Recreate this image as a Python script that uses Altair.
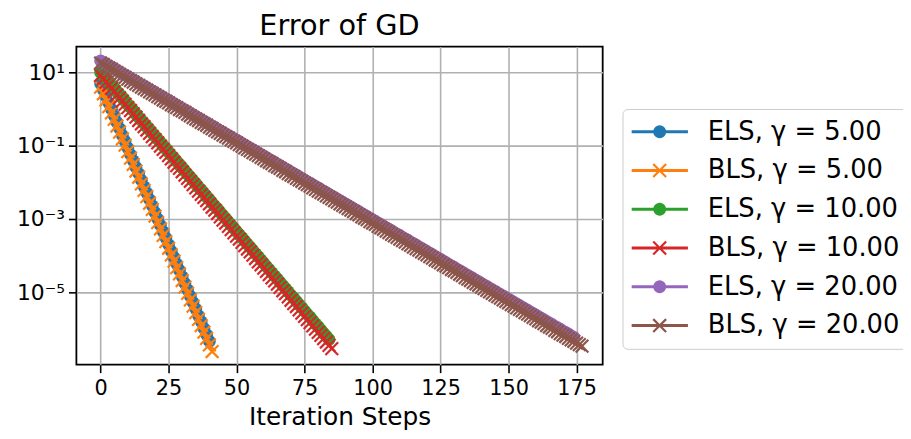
import math
import altair as alt
import pandas as pd

series_names = ["ELS, γ = 5.00", "BLS, γ = 5.00", "ELS, γ = 10.00",
                "BLS, γ = 10.00", "ELS, γ = 20.00", "BLS, γ = 20.00"]
series_colors = ["#1f77b4", "#ff7f0e", "#2ca02c", "#d62728", "#9467bd", "#8c564b"]
x_ticks = [0, 25, 50, 75, 100, 125, 150, 175]
y_ticks = [10, 0.1, 0.001, 0.00001]

# log10(error) at each iteration step
els5_log10 = [0.70, 0.52, 0.35, 0.17, 0.00, -0.18, -0.36, -0.53, -0.71, -0.88,
              -1.06, -1.24, -1.41, -1.59, -1.76, -1.94, -2.12, -2.29, -2.47, -2.64,
              -2.82, -3.00, -3.17, -3.35, -3.52, -3.70, -3.88, -4.05, -4.23, -4.40,
              -4.58, -4.76, -4.93, -5.11, -5.28, -5.46, -5.64, -5.81, -5.99, -6.16,
              -6.34]
bls5_log10 = [0.60, 0.42, 0.25, 0.07, -0.10, -0.28, -0.46, -0.63, -0.81, -0.98,
              -1.16, -1.34, -1.51, -1.69, -1.86, -2.04, -2.22, -2.39, -2.57, -2.74,
              -2.92, -3.10, -3.27, -3.45, -3.62, -3.80, -3.98, -4.15, -4.33, -4.50,
              -4.68, -4.86, -5.03, -5.21, -5.38, -5.56, -5.74, -5.91, -6.09, -6.26,
              -6.44, -6.62]
els10_log10 = [1.00, 0.91, 0.83, 0.74, 0.65, 0.57, 0.48, 0.39, 0.31, 0.22,
               0.13, 0.05, -0.04, -0.13, -0.22, -0.30, -0.39, -0.48, -0.56, -0.65,
               -0.74, -0.82, -0.91, -1.00, -1.08, -1.17, -1.26, -1.34, -1.43, -1.52,
               -1.60, -1.69, -1.78, -1.86, -1.95, -2.04, -2.13, -2.21, -2.30, -2.39,
               -2.47, -2.56, -2.65, -2.73, -2.82, -2.91, -2.99, -3.08, -3.17, -3.25,
               -3.34, -3.43, -3.51, -3.60, -3.69, -3.77, -3.86, -3.95, -4.03, -4.12,
               -4.21, -4.30, -4.38, -4.47, -4.56, -4.64, -4.73, -4.82, -4.90, -4.99,
               -5.08, -5.16, -5.25, -5.34, -5.42, -5.51, -5.60, -5.68, -5.77, -5.86,
               -5.94, -6.03, -6.12, -6.20, -6.29]
bls10_log10 = [0.92, 0.83, 0.74, 0.66, 0.57, 0.48, 0.39, 0.31, 0.22, 0.13,
               0.04, -0.04, -0.13, -0.22, -0.31, -0.40, -0.48, -0.57, -0.66, -0.75,
               -0.83, -0.92, -1.01, -1.10, -1.18, -1.27, -1.36, -1.45, -1.54, -1.62,
               -1.71, -1.80, -1.89, -1.97, -2.06, -2.15, -2.24, -2.33, -2.41, -2.50,
               -2.59, -2.68, -2.76, -2.85, -2.94, -3.03, -3.11, -3.20, -3.29, -3.38,
               -3.47, -3.55, -3.64, -3.73, -3.82, -3.90, -3.99, -4.08, -4.17, -4.25,
               -4.34, -4.43, -4.52, -4.61, -4.69, -4.78, -4.87, -4.96, -5.04, -5.13,
               -5.22, -5.31, -5.39, -5.48, -5.57, -5.66, -5.75, -5.83, -5.92, -6.01,
               -6.10, -6.18, -6.27, -6.36, -6.45, -6.54]
els20_log10 = [1.32, 1.28, 1.23, 1.19, 1.15, 1.10, 1.06, 1.02, 0.97, 0.93,
               0.89, 0.84, 0.80, 0.76, 0.71, 0.67, 0.63, 0.58, 0.54, 0.50,
               0.45, 0.41, 0.37, 0.32, 0.28, 0.24, 0.19, 0.15, 0.10, 0.06,
               0.02, -0.03, -0.07, -0.11, -0.16, -0.20, -0.24, -0.29, -0.33, -0.37,
               -0.42, -0.46, -0.50, -0.55, -0.59, -0.63, -0.68, -0.72, -0.76, -0.81,
               -0.85, -0.89, -0.94, -0.98, -1.02, -1.07, -1.11, -1.15, -1.20, -1.24,
               -1.28, -1.33, -1.37, -1.41, -1.46, -1.50, -1.54, -1.59, -1.63, -1.67,
               -1.72, -1.76, -1.80, -1.85, -1.89, -1.94, -1.98, -2.02, -2.07, -2.11,
               -2.15, -2.20, -2.24, -2.28, -2.33, -2.37, -2.41, -2.46, -2.50, -2.54,
               -2.59, -2.63, -2.67, -2.72, -2.76, -2.80, -2.85, -2.89, -2.93, -2.98,
               -3.02, -3.06, -3.11, -3.15, -3.19, -3.24, -3.28, -3.32, -3.37, -3.41,
               -3.45, -3.50, -3.54, -3.58, -3.63, -3.67, -3.71, -3.76, -3.80, -3.84,
               -3.89, -3.93, -3.97, -4.02, -4.06, -4.10, -4.15, -4.19, -4.24, -4.28,
               -4.32, -4.37, -4.41, -4.45, -4.50, -4.54, -4.58, -4.63, -4.67, -4.71,
               -4.76, -4.80, -4.84, -4.89, -4.93, -4.97, -5.02, -5.06, -5.10, -5.15,
               -5.19, -5.23, -5.28, -5.32, -5.36, -5.41, -5.45, -5.49, -5.54, -5.58,
               -5.62, -5.67, -5.71, -5.75, -5.80, -5.84, -5.88, -5.93, -5.97, -6.01,
               -6.06, -6.10, -6.14, -6.19, -6.23]
bls20_log10 = [1.26, 1.22, 1.17, 1.13, 1.09, 1.04, 1.00, 0.95, 0.91, 0.87,
               0.82, 0.78, 0.74, 0.69, 0.65, 0.60, 0.56, 0.52, 0.47, 0.43,
               0.39, 0.34, 0.30, 0.25, 0.21, 0.17, 0.12, 0.08, 0.04, -0.01,
               -0.05, -0.09, -0.14, -0.18, -0.23, -0.27, -0.31, -0.36, -0.40, -0.44,
               -0.49, -0.53, -0.58, -0.62, -0.66, -0.71, -0.75, -0.79, -0.84, -0.88,
               -0.92, -0.97, -1.01, -1.06, -1.10, -1.14, -1.19, -1.23, -1.27, -1.32,
               -1.36, -1.41, -1.45, -1.49, -1.54, -1.58, -1.62, -1.67, -1.71, -1.76,
               -1.80, -1.84, -1.89, -1.93, -1.97, -2.02, -2.06, -2.10, -2.15, -2.19,
               -2.24, -2.28, -2.32, -2.37, -2.41, -2.45, -2.50, -2.54, -2.59, -2.63,
               -2.67, -2.72, -2.76, -2.80, -2.85, -2.89, -2.94, -2.98, -3.02, -3.07,
               -3.11, -3.15, -3.20, -3.24, -3.28, -3.33, -3.37, -3.42, -3.46, -3.50,
               -3.55, -3.59, -3.63, -3.68, -3.72, -3.77, -3.81, -3.85, -3.90, -3.94,
               -3.98, -4.03, -4.07, -4.12, -4.16, -4.20, -4.25, -4.29, -4.33, -4.38,
               -4.42, -4.46, -4.51, -4.55, -4.60, -4.64, -4.68, -4.73, -4.77, -4.81,
               -4.86, -4.90, -4.95, -4.99, -5.03, -5.08, -5.12, -5.16, -5.21, -5.25,
               -5.29, -5.34, -5.38, -5.43, -5.47, -5.51, -5.56, -5.60, -5.64, -5.69,
               -5.73, -5.78, -5.82, -5.86, -5.91, -5.95, -5.99, -6.04, -6.08, -6.13,
               -6.17, -6.21, -6.26, -6.30, -6.34, -6.39, -6.43, -6.47]

all_series = [els5_log10, bls5_log10, els10_log10, bls10_log10, els20_log10, bls20_log10]

rows = []
for name, vals in zip(series_names, all_series):
    for k, v in enumerate(vals):
        rows.append({"series": name, "k": k, "err": 10 ** v})
df = pd.DataFrame(rows)

FONT = "DejaVu Sans"

# ---- legend symbol shapes (line + marker), unit coords scaled by sqrt(size)/2
LEG_LEN = 57.0
U = LEG_LEN / 2.0


def poly(points):
    area = sum(points[i][0] * points[(i + 1) % len(points)][1]
               - points[(i + 1) % len(points)][0] * points[i][1]
               for i in range(len(points)))
    if area < 0:
        points = points[::-1]
    return "M" + "L".join(f"{x:.4f},{y:.4f}" for x, y in points) + "Z"


lh = 1.5 / U
line_path = poly([(-1, -lh), (1, -lh), (1, lh), (-1, lh)])
cr = 6.5 / U
circle_path = poly([(cr * math.cos(2 * math.pi * i / 28), cr * math.sin(2 * math.pi * i / 28))
                    for i in range(28)])
L = 6.5 / U * math.sqrt(2)
W = 1.1 / U


def bar(ux, uy):
    nx, ny = -uy, ux
    return poly([(-L * ux - W * nx, -L * uy - W * ny), (L * ux - W * nx, L * uy - W * ny),
                 (L * ux + W * nx, L * uy + W * ny), (-L * ux + W * nx, -L * uy + W * ny)])


s2 = 1 / math.sqrt(2)
x_path = bar(s2, s2) + bar(s2, -s2)
legend_shapes = [line_path + (circle_path if n.startswith("ELS") else x_path) for n in series_names]

XMARK = "M-1,-1L1,1M-1,1L1,-1"

x_enc = alt.X("k:Q", scale=alt.Scale(domain=[-8.9, 184.6], nice=False, zero=False),
              axis=alt.Axis(values=x_ticks, title="Iteration Steps", labelPadding=5,
                            titlePadding=6, titleFontSize=25))
y_enc = alt.Y("err:Q", scale=alt.Scale(type="log", domain=[10 ** -6.98, 10 ** 1.71], nice=False),
              axis=alt.Axis(values=y_ticks, title=None, labelPadding=4, labelFontSize=22,
                            labelExpr="datum.value > 1 ? '10¹' : datum.value > 0.01 ? '10⁻¹' : "
                                      "datum.value > 0.0001 ? '10⁻³' : '10⁻⁵'"))

base = alt.Chart(df)
layers = []
for name, color in zip(series_names, series_colors):
    sub = base.transform_filter(alt.datum.series == name)
    layers.append(sub.mark_line(color=color, strokeWidth=3).encode(x=x_enc, y=y_enc, order="k:Q"))
    if name.startswith("ELS"):
        layers.append(sub.mark_point(shape="circle", filled=True, size=165, color=color,
                                     opacity=1, strokeWidth=0).encode(x=x_enc, y=y_enc))
    else:
        layers.append(sub.mark_point(shape=XMARK, filled=False, size=165, color=color,
                                     opacity=1, strokeWidth=2.2).encode(x=x_enc, y=y_enc))

leg_def = dict(title=None, orient="none", legendX=551, legendY=63, symbolSize=LEG_LEN ** 2,
               clipHeight=28, rowPadding=11.1, labelOffset=20, labelFontSize=26,
               labelFont=FONT, labelColor="black", labelLimit=500, symbolStrokeWidth=0,
               symbolOpacity=1)
legend_layer = base.transform_filter("datum.k < 0").mark_point(
    filled=True, opacity=1, size=LEG_LEN ** 2).encode(
    x=x_enc, y=y_enc,
    color=alt.Color("series:N", scale=alt.Scale(domain=series_names, range=series_colors),
                    legend=alt.Legend(**leg_def)),
    shape=alt.Shape("series:N", scale=alt.Scale(domain=series_names, range=legend_shapes),
                    legend=alt.Legend(**leg_def)),
)
layers.append(legend_layer)

chart = alt.layer(*layers).properties(
    width=531, height=321,
    autosize=alt.AutoSizeParams(type="none"),
    padding={"left": 69, "top": 37, "right": 303, "bottom": 65},
    title=alt.TitleParams("Error of GD", fontSize=29, font=FONT, fontWeight="normal",
                          color="black", offset=6),
).configure_axis(
    grid=True, gridColor="#b0b0b0", gridWidth=1.6, tickColor="black", tickWidth=1.6,
    tickSize=8, labelColor="black", labelFontSize=21, labelFont=FONT, domain=False,
    titleFont=FONT, titleFontSize=26, titleFontWeight="normal", titleColor="black",
).configure_view(stroke="black", strokeWidth=1.8).configure_legend(
    strokeColor="#cccccc", fillColor="white", cornerRadius=5, padding=9,
)

chart.save("out.html", embed_options={"renderer": "svg", "actions": False})
